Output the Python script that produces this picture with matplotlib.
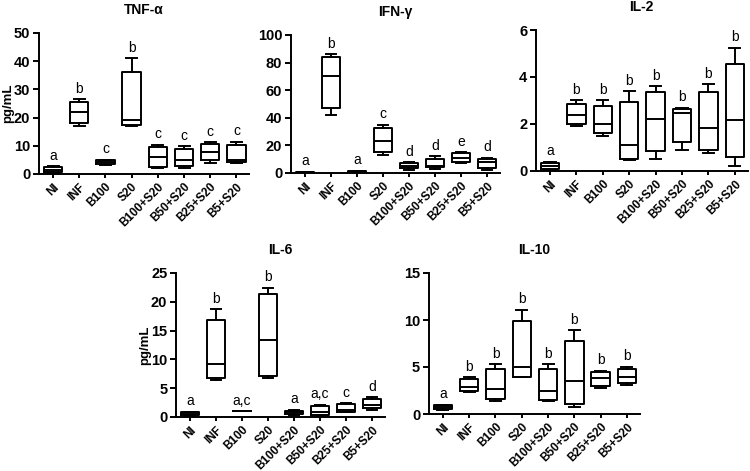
"""
Cytokine levels (box plots) for the eight treatment groups, five panels.
"""

import matplotlib
matplotlib.use("Agg")
import matplotlib.pyplot as plt

plt.rcParams["font.family"] = ["Liberation Sans", "DejaVu Sans"]

GROUPS = ["NI", "INF", "B100", "S20", "B100+S20", "B50+S20", "B25+S20", "B5+S20"]

# TNF-alpha
tnf_lo = [0.5, 17.0, 3.3, 17.0, 2.0, 2.0, 4.0, 3.8]
tnf_q1 = [0.8, 18.0, 3.6, 17.2, 2.5, 2.7, 5.0, 4.2]
tnf_med = [1.5, 22.0, 4.2, 19.0, 6.0, 5.0, 7.8, 5.0]
tnf_q3 = [2.4, 25.5, 4.8, 36.0, 9.5, 8.7, 10.5, 10.2]
tnf_hi = [2.7, 26.5, 5.0, 41.0, 10.3, 9.8, 11.2, 11.5]
tnf_letters = ["a", "b", "c", "b", "c", "c", "c", "c"]

# IFN-gamma
ifn_lo = [0.0, 42.0, 0.3, 13.0, 2.5, 3.0, 7.0, 2.5]
ifn_q1 = [0.2, 47.0, 0.5, 15.5, 3.5, 4.0, 8.0, 3.5]
ifn_med = [0.5, 70.0, 0.8, 23.0, 5.0, 5.0, 11.0, 8.0]
ifn_q3 = [0.8, 84.0, 1.2, 32.5, 7.0, 10.5, 14.5, 10.5]
ifn_hi = [1.0, 86.0, 1.5, 35.0, 8.0, 12.0, 15.0, 11.0]
ifn_letters = ["a", "b", "a", "c", "d", "d", "e", "d"]

# IL-2
il2_lo = [0.05, 1.9, 1.5, 0.45, 0.5, 0.9, 0.75, 0.2]
il2_q1 = [0.1, 2.0, 1.6, 0.5, 0.85, 1.25, 0.9, 0.6]
il2_med = [0.2, 2.4, 2.0, 1.1, 2.2, 2.45, 1.85, 2.15]
il2_q3 = [0.35, 2.85, 2.75, 2.95, 3.35, 2.65, 3.35, 4.55]
il2_hi = [0.4, 3.0, 3.0, 3.4, 3.6, 2.7, 3.7, 5.25]
il2_letters = ["a", "b", "b", "b", "b", "b", "b", "b"]

# IL-6
il6_lo = [0.2, 6.5, 1.0, 6.7, 0.4, 0.1, 0.8, 1.2]
il6_q1 = [0.3, 6.7, 1.0, 7.1, 0.5, 0.3, 0.9, 1.5]
il6_med = [0.5, 9.2, 1.0, 13.3, 0.8, 0.9, 1.3, 2.1]
il6_q3 = [0.8, 16.8, 1.0, 21.3, 1.1, 1.9, 2.3, 3.1]
il6_hi = [0.9, 18.7, 1.0, 22.4, 1.2, 2.1, 2.4, 3.4]
il6_letters = ["a", "b", "a,c", "b", "a", "a,c", "c", "d"]

# IL-10
il10_lo = [0.4, 2.3, 1.4, 3.9, 1.4, 0.7, 2.8, 3.1]
il10_q1 = [0.5, 2.4, 1.6, 3.9, 1.5, 1.1, 3.0, 3.3]
il10_med = [0.7, 2.9, 2.7, 5.0, 2.5, 3.5, 3.8, 3.95]
il10_q3 = [0.95, 3.7, 4.8, 9.9, 4.8, 7.8, 4.5, 4.8]
il10_hi = [1.0, 3.9, 5.3, 11.1, 5.3, 8.9, 4.6, 5.0]
il10_letters = ["a", "b", "b", "b", "b", "b", "b", "b"]

W, H = 750, 471


def px_axes(fig, left, right, top, bottom):
    return fig.add_axes([left / W, 1 - bottom / H, (right - left) / W, (bottom - top) / H])


def panel(ax, title, lo, q1, med, q3, hi, letters, ymax, ystep, ylabel=None):
    stats = []
    for i, g in enumerate(GROUPS):
        stats.append(dict(label=g, whislo=lo[i], q1=q1[i], med=med[i],
                          q3=q3[i], whishi=hi[i], fliers=[]))
    line = dict(color="black", linewidth=1.4)
    ax.bxp(stats, positions=range(len(GROUPS)), widths=0.7, capwidths=0.42,
           showfliers=False, boxprops=line, medianprops=line,
           whiskerprops=line, capprops=line)
    for i, let in enumerate(letters):
        ax.text(i, hi[i] + ymax * 0.025, let, ha="center", va="bottom", fontsize=10)

    ax.set_xlim(-0.55, 7.5)
    ax.set_ylim(0, ymax)
    ax.set_yticks(range(0, ymax + 1, ystep))
    ax.set_xticks(range(len(GROUPS)))
    ax.set_xticklabels(GROUPS, rotation=45, ha="right", rotation_mode="anchor",
                       fontsize=8.5, fontweight="bold")
    for lab in ax.get_yticklabels():
        lab.set_fontsize(10.5)
        lab.set_fontweight("bold")
    ax.spines["top"].set_visible(False)
    ax.spines["right"].set_visible(False)
    for s in ("left", "bottom"):
        ax.spines[s].set_linewidth(1.4)
    ax.tick_params(axis="both", direction="out", width=1.4, length=4, pad=2)
    ax.tick_params(axis="x", length=3)
    ax.set_title(title, fontsize=10, fontweight="bold", pad=14)
    if ylabel:
        ax.set_ylabel(ylabel, fontsize=9.5, fontweight="bold", labelpad=0)


fig = plt.figure(figsize=(W / 100, H / 100), dpi=100)

ax1 = px_axes(fig, 38.6, 249.5, 33, 174)
panel(ax1, "TNF-α", tnf_lo, tnf_q1, tnf_med, tnf_q3, tnf_hi, tnf_letters, 50, 10, "pg/mL")

ax2 = px_axes(fig, 290.7, 500, 35, 173)
panel(ax2, "IFN-γ", ifn_lo, ifn_q1, ifn_med, ifn_q3, ifn_hi, ifn_letters, 100, 20)

ax3 = px_axes(fig, 535.5, 748, 30, 171)
panel(ax3, "IL-2", il2_lo, il2_q1, il2_med, il2_q3, il2_hi, il2_letters, 6, 2)

ax4 = px_axes(fig, 175.7, 385, 273, 417)
panel(ax4, "IL-6", il6_lo, il6_q1, il6_med, il6_q3, il6_hi, il6_letters, 25, 5, "pg/mL")

ax5 = px_axes(fig, 428.5, 640, 273, 414)
panel(ax5, "IL-10", il10_lo, il10_q1, il10_med, il10_q3, il10_hi, il10_letters, 15, 5)

fig.savefig("out.png", dpi=100)
